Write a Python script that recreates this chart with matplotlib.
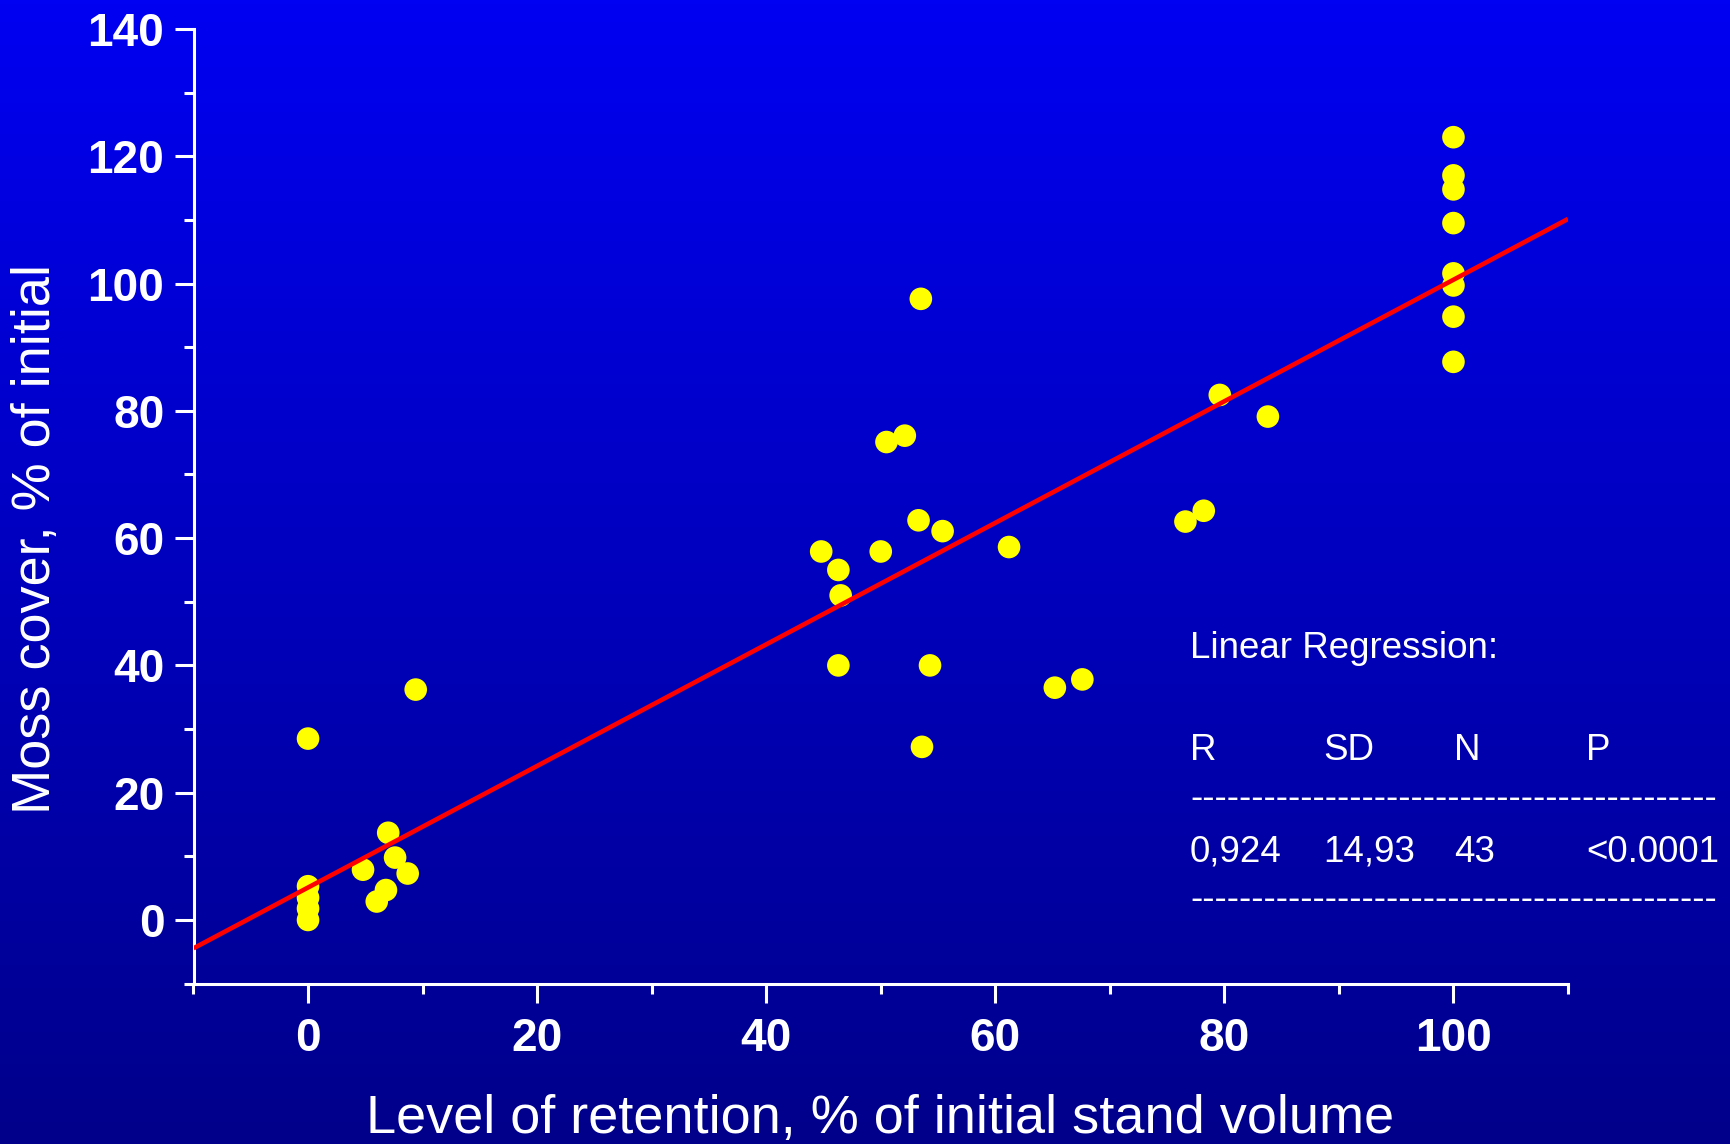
import numpy as np
import matplotlib
matplotlib.use("Agg")
import matplotlib.pyplot as plt
from matplotlib.colors import LinearSegmentedColormap
from matplotlib.ticker import MultipleLocator

plt.rcParams['font.family'] = ['Liberation Sans', 'DejaVu Sans']

# retention level (% of initial stand volume) and moss cover (% of initial)
retention = [0, 0, 0, 0, 0,
             4.8, 7.0, 7.6, 8.7, 6.8, 6.0, 9.4,
             53.5, 50.5, 52.1, 53.3, 55.4, 44.8, 50.0, 61.2, 46.3, 46.5,
             46.3, 54.3, 65.2, 67.6, 53.6,
             79.6, 83.8, 78.2, 76.6,
             100, 100, 100, 100, 100, 100, 100, 100]
moss = [28.5, 5.3, 3.5, 1.8, 0.0,
        7.9, 13.7, 9.8, 7.3, 4.7, 2.9, 36.2,
        97.6, 75.1, 76.1, 62.8, 61.1, 57.9, 57.9, 58.6, 55.0, 51.0,
        40.0, 40.0, 36.5, 37.8, 27.2,
        82.5, 79.1, 64.3, 62.6,
        123.0, 117.0, 114.8, 109.5, 101.6, 99.7, 94.8, 87.7]

# fitted line as drawn on the slide
slope = 0.955
intercept = 5.1
line_x = [-10, 110]

stats_head = "Linear Regression:"
stats_cols = ["R", "SD", "N", "P"]
stats_vals = ["0,924", "14,93", "43", "<0.0001"]

W, H = 1730, 1144
fig = plt.figure(figsize=(W / 100, H / 100), dpi=100)

# background gradient, bright blue at top to navy at bottom
bg = fig.add_axes([0, 0, 1, 1], zorder=-10)
cmap = LinearSegmentedColormap.from_list("bg", [(0, 0, 242 / 255), (0, 0, 138 / 255)])
bg.imshow(np.linspace(0, 1, 256).reshape(-1, 1), aspect="auto", cmap=cmap,
          extent=[0, 1, 0, 1])
bg.set_axis_off()

ax = fig.add_axes([193.5 / W, 1 - 983.6 / H, (1568 - 193.5) / W, (983.6 - 29) / H])
ax.patch.set_alpha(0)

ax.scatter(retention, moss, s=265, color="#ffff00", edgecolors="none", zorder=3,
           clip_on=False)
lx = np.array(line_x)
ax.plot(lx, slope * lx + intercept, color="#ff0000", lw=3.3, zorder=4,
        solid_capstyle="butt")

ax.set_xlim(-10, 110)
ax.set_ylim(-10, 140)
ax.xaxis.set_minor_locator(MultipleLocator(10))
ax.yaxis.set_minor_locator(MultipleLocator(10))
ax.set_yticks([0, 20, 40, 60, 80, 100, 120, 140])
ax.set_xticks([0, 20, 40, 60, 80, 100])

for s in ["top", "right"]:
    ax.spines[s].set_visible(False)
for s in ["left", "bottom"]:
    ax.spines[s].set_color("white")
    ax.spines[s].set_linewidth(2.2)

ax.tick_params(which="major", direction="out", length=14, width=2.2, colors="white",
               labelsize=33, pad=7)
ax.tick_params(which="minor", direction="out", length=7.5, width=2.2, colors="white")
ax.tick_params(axis="x", which="major", pad=10)
for lab in ax.get_xticklabels() + ax.get_yticklabels():
    lab.set_fontweight("bold")

fig.text(36 / W, 1 - 539 / H, "Moss cover, % of initial", rotation=90, color="white",
         fontsize=39, ha="center", va="center")
fig.text(880 / W, 1 - 1133 / H, "Level of retention, % of initial stand volume",
         color="white", fontsize=39, ha="center", va="baseline")

# regression summary box
fs = 26.5
fig.text(1190 / W, 1 - 658 / H, stats_head, color="white", fontsize=fs, va="baseline")
col_x = [1190, 1323, 1454, 1586]
for cx, head, val in zip(col_x, stats_cols, stats_vals):
    fig.text(cx / W, 1 - 760 / H, head, color="white", fontsize=fs, va="baseline")
    fig.text(cx / W, 1 - 862 / H, val, color="white", fontsize=fs, va="baseline")
for by in [808, 909]:
    fig.text(1190 / W, 1 - by / H, "-" * 43, color="white", fontsize=fs, va="baseline")

fig.savefig("out.png", dpi=100)
